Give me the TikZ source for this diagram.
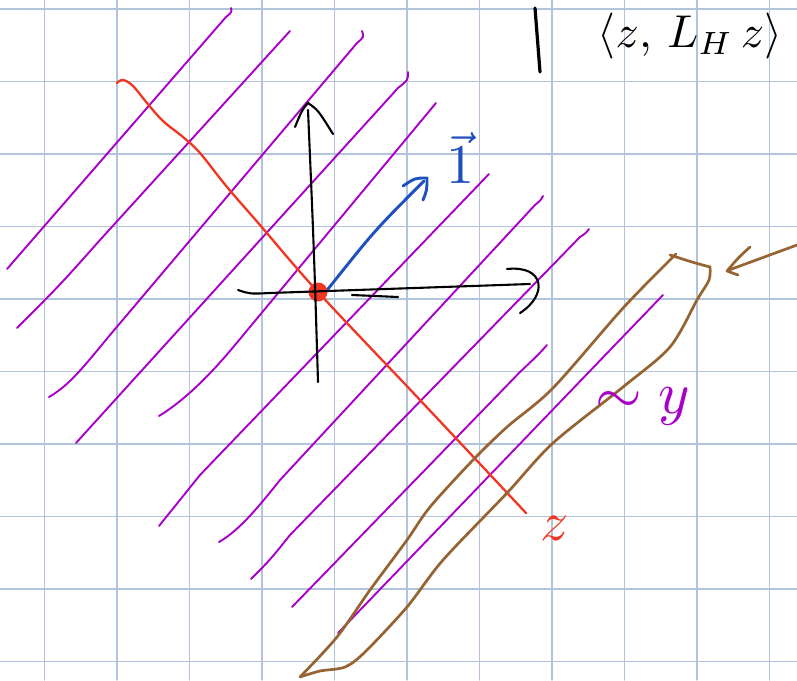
\documentclass[tikz,border=0pt]{standalone}
\usepackage{amsmath,amssymb}
\definecolor{gridblue}{RGB}{178,196,220}
\definecolor{levelpurple}{RGB}{168,0,200}
\definecolor{zred}{RGB}{240,55,35}
\definecolor{vecblue}{RGB}{30,80,190}
\definecolor{regionbrown}{RGB}{150,100,50}

\begin{document}
\begin{tikzpicture}[x=1pt,y=-1pt,line cap=round,line join=round,
    gridline/.style={gridblue,line width=1.2pt},
    level/.style={levelpurple,line width=1.9pt},
    zline/.style={zred,line width=2.3pt},
    axis/.style={black,line width=2.1pt},
    vecline/.style={vecblue,line width=2.9pt},
    region/.style={regionbrown,line width=2.7pt},
    bigtext/.style={inner sep=0pt,scale=#1/10}]
    \useasboundingbox[fill=white] (0,0) rectangle (797,680);
    % squared paper
    \foreach \k in {0,...,10}
        \draw[gridline] ({44.5+72.5*\k},0) -- ({44.5+72.5*\k},680);
    \foreach \k in {0,...,9}
        \draw[gridline] (0,{9+72.5*\k}) -- (797,{9+72.5*\k});
    % level lines
    \draw[level] (7,269) -- (226,17) .. controls (232,12) .. (231,8);
    \draw[level] (17,328) .. controls (60,285) .. (100,240) -- (290,31);
    \draw[level] (49,397) .. controls (70,385) and (85,365) .. (110,335) -- (357,43) .. controls (364,37) .. (362,31);
    \draw[level] (76,443) -- (398,88) .. controls (408,80) .. (408,72);
    \draw[level] (159,416) .. controls (185,400) and (210,375) .. (235,345) -- (436,103);
    \draw[level] (159,526) .. controls (180,500) .. (200,475) -- (489,174);
    \draw[level] (219,542) .. controls (240,530) and (260,505) .. (280,480) -- (535,205) .. controls (541,200) .. (543,196);
    \draw[level] (251,579) .. controls (270,560) .. (290,535) -- (580,237) .. controls (586,233) .. (589,229);
    \draw[level] (292,607) -- (520,372) .. controls (538,355) .. (547,345);
    \draw[level] (338,633) -- (663,295);
    % z direction
    \coordinate (O) at (318,292);
    \draw[zline] plot[smooth,tension=0.6] coordinates {(117,83) (123,80) (133,86) (147,103) (163,121) (183,137) (200,153) (227,187) (260,225) (318,292) (420,400) (526,513)};
    \filldraw[zred,line width=2pt] (O) circle (8.5);
    \node[bigtext=56,text=zred] (zlab) at (555,528) {$z$};
    % axes
    \coordinate (ytop) at (308,103);
    \coordinate (xend) at (530,284);
    \draw[axis] (318,382) .. controls (314,250) .. (308,110);
    \draw[axis] (295,127) .. controls (302,110) .. (ytop) .. controls (318,110) .. (333,134);
    \draw[axis] (238,290) .. controls (250,294) .. (270,293) -- (xend);
    \draw[axis] (507,269) .. controls (545,265) and (548,295) .. (520,313);
    \draw[axis] (352,295) -- (398,297);
    % vector 1
    \coordinate (vtip) at (427,178);
    \draw[vecline] (328,289) .. controls (375,230) .. (424,181);
    \draw[vecline] (403,186) .. controls (415,178) .. (vtip) .. controls (427,190) .. (423,200);
    \node[bigtext=56,text=vecblue] (onelab) at (460,158) {$\vec{1}$};
    % region
    \draw[region] plot[smooth] coordinates {(670,255) (692,262) (710,267)};
    \draw[region] plot[smooth] coordinates {(710,267) (709,280) (697,300) (670,347) (623,387) (553,443) (507,493) (443,560) (407,607) (365,652) (345,667) (320,671) (300,677)};
    \draw[region] plot[smooth] coordinates {(300,677) (337,637) (370,590) (407,540) (430,507) (473,460) (507,427) (553,388) (624,307) (676,254)};
    \coordinate (rtip) at (727,271);
    \draw[region] (797,245) -- (729,270);
    \draw[region] (750,247) .. controls (738,258) .. (rtip) .. controls (732,273) .. (738,275);
    \node[bigtext=60,text=levelpurple,anchor=base] (ylab) at (643,413) {$\sim y$};
    % top right
    \draw[axis,line width=3.2pt] (535,8) .. controls (538,40) .. (540,72);
    \node[bigtext=46] (iplab) at (690,36) {$\langle z,\, L_H\, z\rangle$};
\end{tikzpicture}
\end{document}
